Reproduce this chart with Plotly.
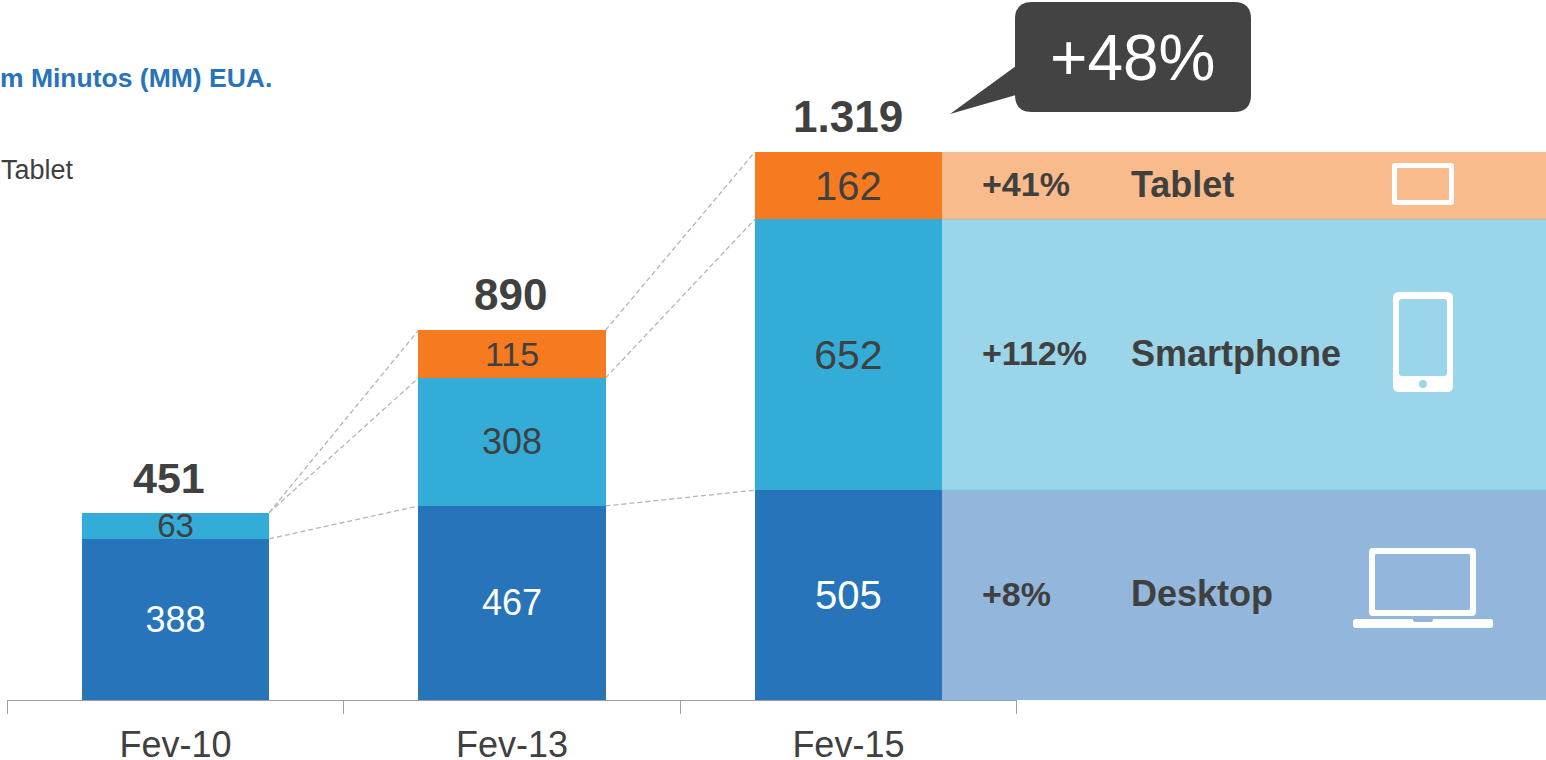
import plotly.graph_objects as go

W, H = 1546, 760

categories = ["Fev-10", "Fev-13", "Fev-15"]
desktop = [388, 467, 505]
smartphone = [63, 308, 652]
tablet = [None, 115, 162]
totals = [451, 890, 1319]
total_labels = ["451", "890", "1.319"]
growth = ["+8%", "+112%", "+41%"]
device_names = ["Desktop", "Smartphone", "Tablet"]

FONT = "Liberation Sans"
DARK = "#404040"
BAR_W = 0.556
X0, X1 = 7.4 / W, 1016.6 / W
Y_MAX = 700 / 0.4155


def px(x):
    return x / W


def py(y):
    return 1 - y / H


def rrect(x0, y0, x1, y1, r):
    """Rounded rectangle as an SVG path, given in screen pixels."""
    a, b, c, d = px(x0), px(x1), py(y0), py(y1)
    rx, ry = r / W, r / H
    return (f"M{a+rx},{c} L{b-rx},{c} Q{b},{c} {b},{c-ry} L{b},{d+ry} Q{b},{d} {b-rx},{d} "
            f"L{a+rx},{d} Q{a},{d} {a},{d+ry} L{a},{c-ry} Q{a},{c} {a+rx},{c} Z")


def icon(path, color):
    return dict(type="path", xref="paper", yref="paper", path=path, fillcolor=color, line_width=0)


fig = go.Figure()
fig.add_trace(go.Bar(x=categories, y=desktop, marker_color="#2774BA", text=desktop,
                     textfont=dict(color="white", size=[36, 36, 40])))
fig.add_trace(go.Bar(x=categories, y=smartphone, marker_color="#33ACD7", text=smartphone,
                     textfont=dict(color=DARK, size=[33, 36, 41])))
fig.add_trace(go.Bar(x=categories, y=tablet, marker_color="#F57A20", text=tablet,
                     textfont=dict(color=DARK, size=[32, 34, 40])))
fig.update_traces(textposition="inside", insidetextanchor="middle", constraintext="none",
                  textangle=0, marker_line_width=0, hoverinfo="skip")

# cumulative tops of each segment
tops_d = desktop
tops_s = [d + s for d, s in zip(desktop, smartphone)]
tops_t = totals

shapes = []
# dashed links between the bars
for tops in (tops_d, tops_s, tops_t):
    for i in range(2):
        shapes.append(dict(type="line", xref="x", yref="y", x0=i + BAR_W / 2, x1=i + 1 - BAR_W / 2,
                           y0=tops[i], y1=tops[i + 1], layer="below",
                           line=dict(color="#B5B5B5", width=1.3, dash="5px,3px")))

# bands running out of the last bar
band_x = X0 + (2 + BAR_W / 2 + 0.5) / 3 * (X1 - X0)
band_edges = [0, tops_d[2], tops_s[2], tops_t[2]]
band_colors = ["#93B7DC", "#9AD5EA", "#F9BB8C"]
for i in range(3):
    shapes.append(dict(type="rect", xref="paper", yref="y", x0=band_x, x1=1,
                       y0=band_edges[i], y1=band_edges[i + 1], fillcolor=band_colors[i],
                       line_width=0, layer="below"))
for i, col in ((1, "#6FBEDD"), (2, "#A9BDB4")):
    shapes.append(dict(type="line", xref="paper", yref="y", x0=band_x, x1=1,
                       y0=band_edges[i], y1=band_edges[i], line=dict(color=col, width=1)))

# callout
shapes.append(icon(rrect(1015, 2, 1251, 112, 17), "#434343"))
shapes.append(icon(f"M{px(1016)},{py(66)} L{px(950)},{py(114)} L{px(1016)},{py(95)} Z", "#434343"))

# tablet icon
shapes.append(icon(rrect(1392, 163, 1454, 205, 3), "white"))
shapes.append(icon(rrect(1397, 168, 1449, 200, 1), band_colors[2]))
# phone icon
shapes.append(icon(rrect(1393, 292, 1453, 392, 6), "white"))
shapes.append(icon(rrect(1399, 299, 1447, 376, 3), band_colors[1]))
shapes.append(icon(rrect(1419, 380, 1427, 388, 4), band_colors[1]))
# laptop icon
shapes.append(icon(rrect(1369, 548, 1476, 616, 4), "white"))
shapes.append(icon(rrect(1375, 554, 1470, 610, 1), band_colors[0]))
shapes.append(icon(rrect(1353, 619, 1493, 628, 3), "white"))
shapes.append(icon(rrect(1413, 617, 1433, 622, 2), band_colors[0]))

annotations = []
total_shift = [-7, -2, 0]
total_sizes = [43, 44, 44]
for i, cat in enumerate(categories):
    annotations.append(dict(x=cat, y=totals[i], text=f"<b>{total_labels[i]}</b>", showarrow=False,
                            yanchor="bottom", xshift=total_shift[i], yshift=9,
                            font=dict(size=total_sizes[i], color=DARK)))

band_mid = [(band_edges[i] + band_edges[i + 1]) / 2 for i in range(3)]
for i in range(3):
    annotations.append(dict(xref="paper", yref="y", x=px(980), y=band_mid[i], xanchor="left", yshift=1.5,
                            text=f"<b>{growth[i]}</b>", showarrow=False,
                            font=dict(size=34, color=DARK)))
    annotations.append(dict(xref="paper", yref="y", x=px(1129), y=band_mid[i], xanchor="left", yshift=1.5,
                            text=f"<b>{device_names[i]}</b>", showarrow=False,
                            font=dict(size=36, color=DARK)))

annotations.append(dict(xref="paper", yref="paper", x=px(1132.5), y=py(58), xanchor="center", yanchor="middle",
                        text="+48%", showarrow=False, font=dict(size=64, color="white")))
annotations.append(dict(xref="paper", yref="paper", x=0, y=py(77.5), xanchor="left", yanchor="middle", xshift=-2,
                        text="<b>m Minutos (MM) EUA.</b>", showarrow=False,
                        font=dict(size=26.5, color="#2874BA")))
annotations.append(dict(xref="paper", yref="paper", x=0, y=py(170), xanchor="left", yanchor="middle", xshift=-1,
                        text="Tablet", showarrow=False, font=dict(size=27, color=DARK)))

fig.update_layout(
    width=W, height=H, margin=dict(l=0, r=0, t=0, b=0),
    barmode="stack", bargap=1 - BAR_W, showlegend=False,
    paper_bgcolor="white", plot_bgcolor="rgba(0,0,0,0)",
    font=dict(family=FONT, color=DARK),
    xaxis=dict(domain=[X0, X1], type="category", range=[-0.5, 2.5], tickson="boundaries", ticks="outside",
               ticklen=13, tickcolor="#A0A0A0", tickwidth=1, showline=True, linecolor="#A0A0A0",
               linewidth=1, showgrid=False, ticklabelstandoff=13, automargin=False,
               tickfont=dict(size=36, color=DARK)),
    yaxis=dict(domain=[py(700), 1], range=[0, Y_MAX], visible=False),
    shapes=shapes, annotations=annotations,
)

fig.write_html("out.html", config=dict(displayModeBar=False),
               post_script="document.body.style.margin='0';document.body.style.overflow='hidden';")
